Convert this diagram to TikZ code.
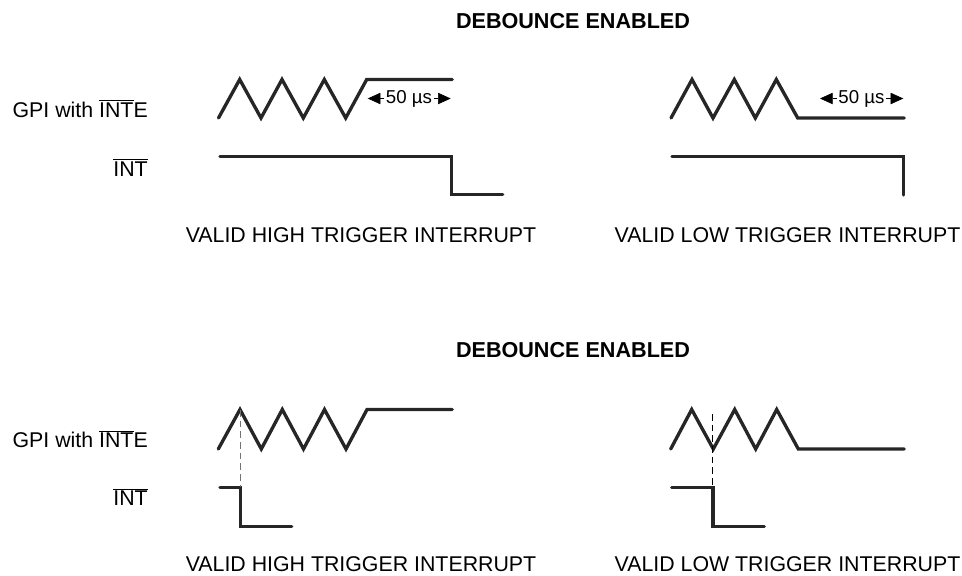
\documentclass[tikz,border=0pt]{standalone}
\usepackage{fontspec}
\setmainfont{Liberation Sans}
\usetikzlibrary{arrows.meta}

\tikzstyle{wave} = [draw, line width=2.5pt, color=black!85, line cap=round, line join=miter]
\tikzstyle{sigtext} = [anchor=base east, inner sep=0pt, font=\fontsize{16pt}{19pt}\selectfont]
\tikzstyle{trigtext} = [anchor=base, inner sep=0pt, font=\fontsize{16pt}{19pt}\selectfont]
\tikzstyle{headtext} = [anchor=base, inner sep=0pt, font=\fontsize{16.2pt}{19pt}\selectfont\bfseries]
\tikzstyle{time} = [inner sep=1pt, font=\fontsize{14pt}{17pt}\selectfont]
\tikzstyle{timearrow} = [draw, line width=0.5pt, -{Triangle[length=9.5pt,width=8.5pt]}]
\newcommand{\intbar}{$\overline{\mbox{INT}}$}

\begin{document}
\begin{tikzpicture}[x=0.75pt, y=-0.75pt]
    \useasboundingbox (0,0) rectangle (962,575);
    % top pair
    \node [headtext] (head1) at (573,28.5) {DEBOUNCE ENABLED};
    \node [sigtext] (gpi1) at (148,117.3) {GPI with \intbar E};
    \node [sigtext] (int1) at (148,176) {\intbar};
    \draw [wave] (218.5,118) -- (239.7,79.5) -- (261,118) -- (282,79.5) -- (303.3,118)
        -- (324.3,79.5) -- (345.7,118) -- (366.7,79.5) -- (452.3,79.5);
    \draw [wave] (220,156.7) -- (451.7,156.7) -- (451.7,194.3) -- (502.7,194.3);
    \node [time] (time1) at (409,98.5) {50 µs};
    \coordinate (time1l) at (367.7,98.5);
    \coordinate (time1r) at (450.7,98.5);
    \draw [timearrow] (time1) -- (time1l);
    \draw [timearrow] (time1) -- (time1r);
    \node [trigtext] (trig1) at (361,242.3) {VALID HIGH TRIGGER INTERRUPT};

    \draw [wave] (671,118) -- (692,79.5) -- (713,118) -- (734.3,79.5) -- (755.3,118)
        -- (776.3,79.5) -- (797.7,118) -- (904.3,118);
    \draw [wave] (672,156.7) -- (903.3,156.7) -- (903.3,195);
    \node [time] (time2) at (861.5,98.5) {50 µs};
    \coordinate (time2l) at (820,98.5);
    \coordinate (time2r) at (903.3,98.5);
    \draw [timearrow] (time2) -- (time2l);
    \draw [timearrow] (time2) -- (time2r);
    \node [trigtext] (trig2) at (787.5,242.3) {VALID LOW TRIGGER INTERRUPT};

    % bottom pair
    \node [headtext] (head2) at (573,357.5) {DEBOUNCE ENABLED};
    \node [sigtext] (gpi2) at (148,447.3) {GPI with \intbar E};
    \node [sigtext] (int2) at (148,505.5) {\intbar};
    \draw [wave] (218.3,449) -- (240,409.5) -- (261.3,449) -- (282.3,409.5) -- (303.5,449)
        -- (324.5,409.5) -- (346,449) -- (367,409.5) -- (452.3,409.5);
    \draw [wave] (220,487.3) -- (240.3,487.3) -- (240.3,526.7) -- (291.7,526.7);
    \draw [dashed, dash pattern=on 5pt off 3pt, line width=0.5pt, color=black!55] (240,410) -- (240,487);
    \node [trigtext] (trig3) at (361,571.3) {VALID HIGH TRIGGER INTERRUPT};

    \draw [wave] (670.7,449) -- (691.7,409.5) -- (713.3,449) -- (734.7,409.5) -- (755.7,449)
        -- (776.7,409.5) -- (798.3,449) -- (904.3,449);
    \draw [wave] (671.7,487.3) -- (713,487.3) -- (713,526.7) -- (764.3,526.7);
    \draw [dashed, dash pattern=on 5pt off 3pt, line width=0.5pt] (712.7,414) -- (712.7,487);
    \node [trigtext] (trig4) at (787.5,571.3) {VALID LOW TRIGGER INTERRUPT};
\end{tikzpicture}
\end{document}
